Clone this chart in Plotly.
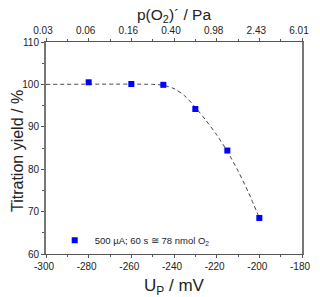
import plotly.graph_objects as go

# data
up_mv = [-280, -260, -245, -230, -215, -200]
yield_pct = [100.5, 100.1, 99.9, 94.2, 84.4, 68.5]
fit_x = [-300, -250, -245, -240, -235, -230, -225, -220, -215, -210, -205, -200]
fit_y = [100, 100, 99.8, 99.0, 97.3, 94.6, 91.5, 88.1, 84.2, 79.6, 74.4, 68.5]
bottom_ticks = [-300, -280, -260, -240, -220, -200, -180]
bottom_labels = ["-300", "-280", "-260", "-240", "-220", "-200", "-180"]
top_labels = ["0.03", "0.06", "0.16", "0.40", "0.98", "2.43", "6.01"]
y_ticks = [60, 70, 80, 90, 100, 110]

FONT = "Liberation Sans, Arial, sans-serif"
AX = "#555555"

fig = go.Figure()
fig.add_trace(go.Scatter(x=fit_x, y=fit_y, mode="lines",
                         line=dict(color="#444444", width=1, dash="4px,3px", shape="spline", smoothing=0.8),
                         showlegend=False, hoverinfo="skip"))
fig.add_trace(go.Scatter(x=up_mv, y=yield_pct, mode="markers",
                         marker=dict(symbol="square", size=6, color="#0000ff"),
                         name="500 µA; 60 s ≅ 78 nmol O<sub>2</sub>"))
fig.add_trace(go.Scatter(x=[bottom_ticks[0]], y=[y_ticks[0]], xaxis="x2", mode="markers",
                         marker=dict(opacity=0), showlegend=False, hoverinfo="skip"))
fig.add_trace(go.Scatter(x=[bottom_ticks[0]], y=[y_ticks[0]], yaxis="y2", mode="markers",
                         marker=dict(opacity=0), showlegend=False, hoverinfo="skip"))

axis_common = dict(showgrid=False, zeroline=False, ticks="outside", ticklen=3, tickcolor=AX,
                   ticklabeloverflow="allow", tickfont=dict(family=FONT, size=10, color="#222"))

# the page body keeps its default 8px margin, so the figure is sized to fit the window after it
fig.update_layout(
    width=312, height=289,
    margin=dict(l=38, r=10, t=34, b=43),
    paper_bgcolor="white", plot_bgcolor="white",
    font=dict(family=FONT, color="#222"),
    xaxis=dict(range=[-300, -180], tickvals=bottom_ticks, ticktext=bottom_labels,
               linecolor=AX, linewidth=1, ticklabelshift=-2,
               minor=dict(dtick=10, ticks="outside", ticklen=2, tickcolor=AX),
               **axis_common),
    xaxis2=dict(range=[-300, -180], overlaying="x", side="top", tickvals=bottom_ticks, ticktext=top_labels,
                linecolor=AX, linewidth=1, ticklabelshift=-3,
                minor=dict(tickvals=[-290, -270, -250, -230, -210, -190], ticks="outside", ticklen=2, tickcolor=AX),
                **axis_common),
    yaxis=dict(range=[60, 110], tickvals=y_ticks,
               minor=dict(dtick=5, ticks="outside", ticklen=2, tickcolor=AX),
               linewidth=2, linecolor="#777777",
               **axis_common),
    yaxis2=dict(overlaying="y", side="right", range=[60, 110], showticklabels=False, ticks="",
                showline=True, linecolor="#777777", linewidth=2, showgrid=False, zeroline=False),
    legend=dict(x=0.034, y=0.065, xanchor="left", yanchor="middle", bgcolor="rgba(0,0,0,0)",
                font=dict(family=FONT, size=9.5), itemwidth=30, tracegroupgap=0),
    annotations=[
        dict(text="U<sub>P</sub> / mV", xref="paper", yref="paper", x=0.5, y=0, xanchor="center",
             yanchor="middle", yshift=-33, showarrow=False, font=dict(family=FONT, size=17, color="#222")),
        dict(text="p(O<sub>2</sub>)´ / Pa", xref="paper", yref="paper", x=0.5, y=1, xanchor="center",
             yanchor="middle", yshift=27, showarrow=False, font=dict(family=FONT, size=15.5, color="#222")),
        dict(text="Titration yield / %", xref="paper", yref="paper", x=0, y=0.5, xanchor="center",
             yanchor="middle", xshift=-29, yshift=-3, textangle=-90, showarrow=False,
             font=dict(family=FONT, size=16, color="#222")),
    ],
)
fig.write_html("out.html")
